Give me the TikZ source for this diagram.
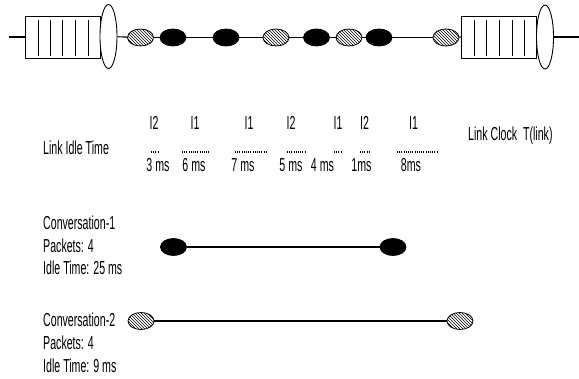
\documentclass[tikz,border=0pt]{standalone}
\usepackage{fontspec}
\setmainfont[FakeStretch=0.565]{Liberation Sans}
\usetikzlibrary{shapes.geometric,patterns}
\begin{document}
\begin{tikzpicture}[x=1pt,y=-1pt,
  lbl/.style={inner sep=0pt, font=\fontsize{18.8}{22}\selectfont},
  pkt/.style={ellipse, draw, line width=0.8pt, minimum width=26pt, minimum height=17pt, inner sep=0pt},
  blk/.style={pkt, fill=black},
  hat/.style={pkt, pattern=north west lines},
  idle/.style={line width=1.1pt, dash pattern=on 0.9pt off 1.3pt},
  link/.style={line width=1.1pt},
  queue/.style={draw, line width=0.9pt, minimum width=75pt, minimum height=42pt, inner sep=0pt},
  slot/.style={line width=0.8pt},
  gate/.style={ellipse, draw, line width=0.9pt, minimum width=17pt, minimum height=64pt, inner sep=0pt, fill=white}
]
\useasboundingbox (0,0) rectangle (579,379);

% top row: queues and gates
\coordinate (in) at (9,37);
\coordinate (out) at (579,37);
\node[queue] (q1) at (62.5,37) {};
\node[queue] (q2) at (499,37) {};
\foreach \x in {38,50,62,75,88} \draw[slot] (\x,20) -- (\x,56);
\foreach \x in {474,486,499,512,524} \draw[slot] (\x,20) -- (\x,56);
\node[gate] (g1) at (108.5,36.5) {};
\node[gate] (g2) at (545,37) {};

% packets on the link
\node[hat] (p1) at (140.5,37.5) {};
\node[blk] (p2) at (173,37.5) {};
\node[blk] (p3) at (226,37.5) {};
\node[hat] (p4) at (276,37.5) {};
\node[blk] (p5) at (316.5,37.5) {};
\node[hat] (p6) at (349,37.5) {};
\node[blk] (p7) at (379,37.5) {};
\node[hat] (p8) at (446,37.5) {};

\draw[link] (in) -- (q1.west);
\draw[link] (g1) -- (p1);
\draw[link] (p1) -- (p2);
\draw[link] (p2) -- (p3);
\draw[link] (p3) -- (p4);
\draw[link] (p4) -- (p5);
\draw[link] (p5) -- (p6);
\draw[link] (p6) -- (p7);
\draw[link] (p7) -- (p8);
\draw[link] (p8) -- (q2.west);
\draw[link] (g2.east) -- (out);

% idle time row
\node[lbl, anchor=base west] (lit) at (43,155) {Link Idle Time};
\node[lbl, anchor=base west] (lc) at (468,141) {Link Clock\ \ T(link)};

\node[lbl, anchor=base] (l1) at (154,130) {I2};
\node[lbl, anchor=base] (l2) at (195,130) {I1};
\node[lbl, anchor=base] (l3) at (249,130) {I1};
\node[lbl, anchor=base] (l4) at (291,130) {I2};
\node[lbl, anchor=base] (l5) at (338,130) {I1};
\node[lbl, anchor=base] (l6) at (364.5,130) {I2};
\node[lbl, anchor=base] (l7) at (413.5,130) {I1};

\draw[idle] (151,152) -- (158,152);
\draw[idle] (182,152) -- (210,152);
\draw[idle] (235,152) -- (267,152);
\draw[idle] (287,152) -- (305,152);
\draw[idle] (334,152) -- (341,152);
\draw[idle] (360,152) -- (369,152);
\draw[idle] (397,152) -- (437,152);

\node[lbl, anchor=base] (t1) at (158,171.5) {3 ms};
\node[lbl, anchor=base] (t2) at (194,171.5) {6 ms};
\node[lbl, anchor=base] (t3) at (243,171.5) {7 ms};
\node[lbl, anchor=base] (t4) at (291,171.5) {5 ms};
\node[lbl, anchor=base] (t5) at (322.5,171.5) {4 ms};
\node[lbl, anchor=base] (t6) at (361.5,171.5) {1ms};
\node[lbl, anchor=base] (t7) at (411,171.5) {8ms};

% conversation 1
\node[lbl, anchor=base west] (c1t1) at (43,230) {Conversation-1};
\node[lbl, anchor=base west] (c1t2) at (43,253) {Packets: 4};
\node[lbl, anchor=base west] (c1t3) at (43,275) {Idle Time: 25 ms};
\node[blk] (c1a) at (173.5,247) {};
\node[blk] (c1b) at (393,247) {};
\draw[link] (c1a) -- (c1b);

% conversation 2
\node[lbl, anchor=base west] (c2t1) at (43,327) {Conversation-2};
\node[lbl, anchor=base west] (c2t2) at (43,350) {Packets: 4};
\node[lbl, anchor=base west] (c2t3) at (43,373) {Idle Time: 9 ms};
\node[hat] (c2a) at (141,321) {};
\node[hat] (c2b) at (460,321) {};
\draw[link] (c2a) -- (c2b);
\end{tikzpicture}
\end{document}
